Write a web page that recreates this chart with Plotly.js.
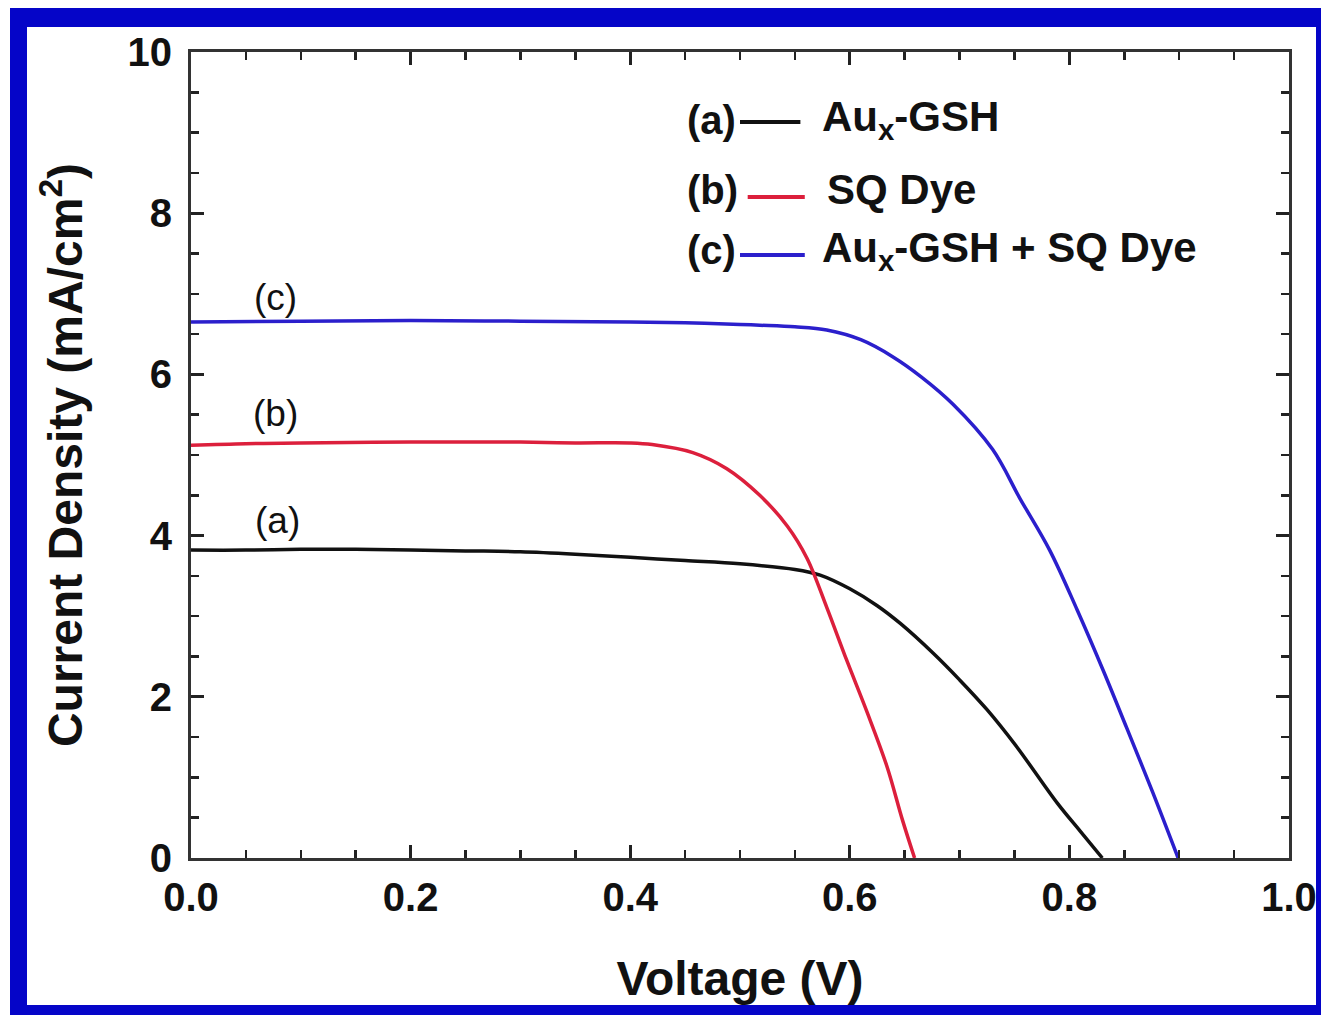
<!DOCTYPE html>
<html>
<head>
<meta charset="utf-8">
<script src="https://cdn.plot.ly/plotly-3.0.1.min.js"></script>
<style>
html,body{margin:0;padding:0;background:#fff;}
#chart{position:absolute;left:0;top:0;width:1321px;height:1015px;}
#frame{position:absolute;left:10px;top:8px;width:1311px;height:1007px;box-sizing:border-box;
border-style:solid;border-color:#0505c8;border-width:19px 5px 10px 17px;pointer-events:none;}
</style>
</head>
<body>
<div id="chart"></div>
<div id="frame"></div>
<script>
// Data
const voltageA = [0, 0.05, 0.1, 0.15, 0.2, 0.25, 0.3, 0.35, 0.4, 0.45, 0.5, 0.55, 0.573, 0.6, 0.625, 0.646, 0.676, 0.70, 0.725, 0.752, 0.789, 0.81, 0.83];
const currentA = [3.82, 3.82, 3.83, 3.83, 3.82, 3.81, 3.80, 3.77, 3.73, 3.69, 3.65, 3.58, 3.51, 3.34, 3.13, 2.91, 2.54, 2.21, 1.84, 1.38, 0.68, 0.33, 0];

const voltageB = [0, 0.05, 0.1, 0.2, 0.3, 0.35, 0.4, 0.42, 0.457, 0.488, 0.518, 0.543, 0.561, 0.579, 0.597, 0.616, 0.634, 0.648, 0.659];
const currentB = [5.12, 5.14, 5.15, 5.16, 5.16, 5.15, 5.15, 5.13, 5.03, 4.83, 4.50, 4.12, 3.72, 3.11, 2.46, 1.80, 1.13, 0.47, 0];

const voltageC = [0, 0.1, 0.2, 0.3, 0.4, 0.45, 0.5, 0.518, 0.55, 0.579, 0.61, 0.639, 0.665, 0.694, 0.73, 0.755, 0.782, 0.807, 0.831, 0.852, 0.876, 0.899];
const currentC = [6.65, 6.66, 6.67, 6.66, 6.65, 6.64, 6.62, 6.61, 6.59, 6.55, 6.43, 6.22, 5.97, 5.63, 5.07, 4.46, 3.82, 3.08, 2.32, 1.62, 0.81, 0];

const seriesNames = ["Au<sub>x</sub>-GSH", "SQ Dye", "Au<sub>x</sub>-GSH + SQ Dye"];
const seriesTags = ["(a)", "(b)", "(c)"];
const seriesColors = ["#111111", "#dc1f3c", "#2b1fcc"];

const xTickVals = [0, 0.2, 0.4, 0.6, 0.8, 1.0];
const xTickText = ["0.0", "0.2", "0.4", "0.6", "0.8", "1.0"];
const yTickVals = [0, 2, 4, 6, 8, 10];
const yTickText = ["0", "2", "4", "6", "8", "10"];

const FONT = "Liberation Sans, Arial, sans-serif";

const xs = [voltageA, voltageB, voltageC];
const ys = [currentA, currentB, currentC];

const traces = xs.map((x, i) => ({
  x: x, y: ys[i], type: "scatter", mode: "lines",
  name: seriesNames[i],
  line: {color: seriesColors[i], width: 3.5, shape: "spline", smoothing: 1.0},
  showlegend: false, hoverinfo: "skip"
}));

// legend drawn manually: (tag) line name
const legY = [9.16, 8.29, 7.54];
const legLineY = [9.13, 8.20, 7.48];
const legLineX0 = [0.50, 0.507, 0.50];
const legLineX1 = [0.555, 0.559, 0.559];
const legNameX = [0.573, 0.577, 0.573];

const annotations = [];
const shapes = [];
for (let i = 0; i < 3; i++) {
  annotations.push({x: 0.45, y: legY[i], xref: "x", yref: "y", xanchor: "left", yanchor: "middle",
    text: "<b>" + seriesTags[i] + "</b>", showarrow: false, font: {family: FONT, size: 40, color: "#111"}});
  annotations.push({x: legNameX[i], y: legY[i], xref: "x", yref: "y", xanchor: "left", yanchor: "middle",
    text: "<b>" + seriesNames[i] + "</b>", showarrow: false, font: {family: FONT, size: 42, color: "#111"}});
  shapes.push({type: "line", xref: "x", yref: "y", x0: legLineX0[i], x1: legLineX1[i], y0: legLineY[i], y1: legLineY[i],
    line: {color: seriesColors[i], width: 4}});
}
// curve tags
const tagX = [0.079, 0.0765, 0.0765];
const tagY = [4.19, 5.52, 6.96];
for (let i = 0; i < 3; i++) {
  annotations.push({x: tagX[i], y: tagY[i], xref: "x", yref: "y", xanchor: "center", yanchor: "middle",
    text: seriesTags[i], showarrow: false, font: {family: FONT, size: 37, color: "#111"}});
}

const axisCommon = {
  showline: true, linecolor: "#333", linewidth: 3, mirror: "ticks",
  ticks: "inside", ticklen: 13, tickwidth: 3, tickcolor: "#222",
  showgrid: false, zeroline: false, fixedrange: true,
  tickfont: {family: FONT, size: 40, color: "#111", weight: "bold"}
};

const layout = {
  width: 1321, height: 1015,
  margin: {l: 191, r: 32, t: 52, b: 157},
  paper_bgcolor: "#ffffff", plot_bgcolor: "#ffffff",
  xaxis: Object.assign({}, axisCommon, {
    range: [0, 1], tickvals: xTickVals, ticktext: xTickText,
    minor: {dtick: 0.05, ticks: "inside", ticklen: 8, tickwidth: 2.5, tickcolor: "#222"},
    ticklabelstandoff: 2,
    title: {text: "<b>Voltage (V)</b>", font: {family: FONT, size: 48, color: "#111"}, standoff: 44}
  }),
  yaxis: Object.assign({}, axisCommon, {
    range: [0, 10], tickvals: yTickVals, ticktext: yTickText,
    minor: {dtick: 0.5, ticks: "inside", ticklen: 8, tickwidth: 2.5, tickcolor: "#222"},
    ticklabelstandoff: 8,
    title: {text: "<b>Current Density (mA/cm<sup>2</sup>)</b>", font: {family: FONT, size: 48, color: "#111"}, standoff: 30}
  }),
  annotations: annotations,
  shapes: shapes,
  showlegend: false
};

Plotly.newPlot("chart", traces, layout, {displayModeBar: false, staticPlot: true});
</script>
</body>
</html>
